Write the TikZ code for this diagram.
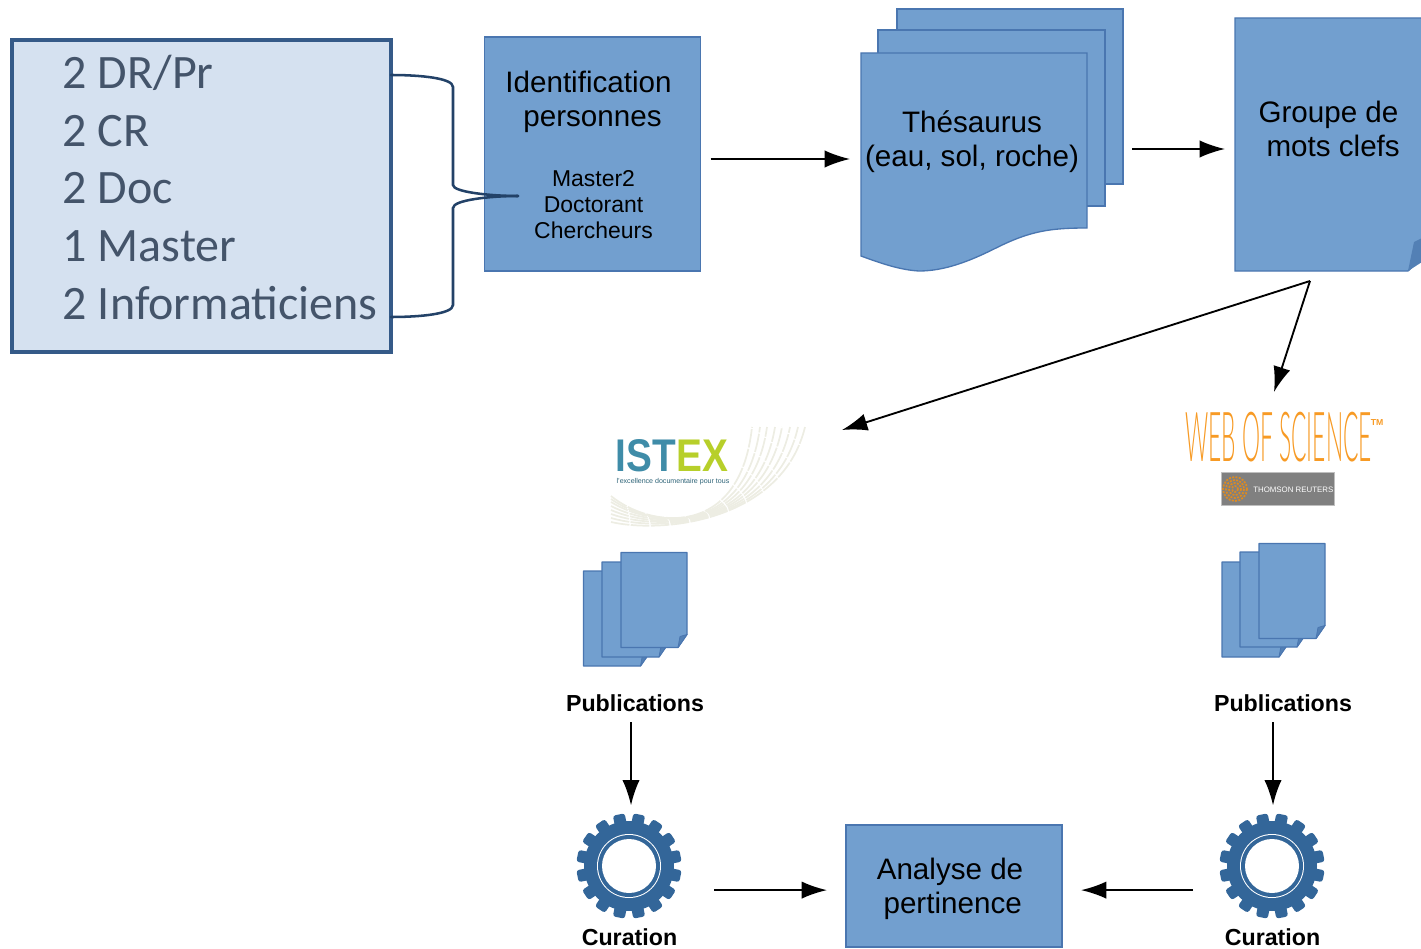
\documentclass[tikz,border=0pt]{standalone}
\usepackage{fontspec}
\setmainfont{Liberation Sans}
\newfontfamily\calib{Carlito}
\newfontfamily\wosfont{Lato Light}
\usetikzlibrary{arrows.meta}
\definecolor{sheetfill}{HTML}{729FCF}
\definecolor{sheetline}{HTML}{4A76B0}
\definecolor{foldfill}{HTML}{5380B5}
\definecolor{gearblue}{HTML}{336699}
\definecolor{panelfill}{HTML}{D5E1F0}
\definecolor{panelline}{HTML}{355A88}
\definecolor{paneltext}{HTML}{44546A}
\definecolor{bracecol}{HTML}{234268}
\definecolor{swoosh}{HTML}{EDEDE3}
\definecolor{istexblue}{HTML}{3F8CA8}
\definecolor{istexgreen}{HTML}{B7CF2A}
\definecolor{wosorange}{HTML}{F79A24}
\tikzset{
  sheet/.style 2 args={draw=sheetline,fill=sheetfill,line width=1pt,inner sep=0pt,outer sep=0pt,
    minimum width=#1*0.75pt,minimum height=#2*0.75pt,align=center},
  ghost/.style 2 args={inner sep=0pt,outer sep=0pt,minimum width=#1*0.75pt,minimum height=#2*0.75pt,align=center},
  big/.style={font=\fontsize{22.2}{25.5}\selectfont},
  small/.style={font=\fontsize{17.2}{19.5}\selectfont},
  lbl/.style={font=\fontsize{17.4}{20}\selectfont\bfseries,inner sep=0pt,outer sep=0pt},
  arr/.style={-{Latex[length=19pt,width=13pt]},line width=1.4pt,black},
  brace/.style={draw=bracecol,line width=1.9pt,line cap=round}
}
\newcommand{\docpage}[2]{%
  \filldraw[draw=sheetline,fill=sheetfill,line width=0.9pt,line join=round]
    (#1,#2) -- ++(66,0) -- ++(0,82) -- ++(-9,13) -- ++(-57,0) -- cycle;
  \filldraw[draw=sheetline,fill=foldfill,line width=0.6pt,line join=round]
    (#1+66,#2+82) -- (#1+59,#2+84) -- (#1+57,#2+95) -- cycle;
}
\newcommand{\gearicon}[3]{%
  \node[circle,inner sep=0pt,outer sep=0pt,minimum size=78pt] (#1) at (#2,#3) {};
  \begin{scope}[shift={(#2,#3)}]
    \foreach \a in {0,22.5,...,337.5}{
      \fill[gearblue,rounded corners=2pt,rotate=\a+11.25] (-6,-52.5) rectangle (6,-30);
    }
    \fill[gearblue] (0,0) circle[radius=45];
    \fill[white] (0,0) circle[radius=32];
    \fill[gearblue] (0,0) circle[radius=31];
    \fill[white] (0,0) circle[radius=27];
  \end{scope}
}
\begin{document}
\begin{tikzpicture}[x=0.75pt,y=-0.75pt]
\useasboundingbox (0,0) rectangle (1421,949);
\clip (0,0) rectangle (1421,949);

% left panel
\node[draw=panelline,fill=panelfill,line width=3pt,inner sep=0pt,outer sep=0pt,
  minimum width=284.5pt,minimum height=234pt] (panel) at (201.3,196) {};
\node[anchor=west,inner sep=0pt,align=left,text=paneltext,
  font=\calib\fontsize{36}{43.3}\selectfont] (paneltxt) at (62.5,187.5)
  {2 DR/Pr\\2 CR\\2 Doc\\1 Master\\2 Informaticiens};

% identification box
\node[sheet={216}{234},big] (ident) at (592.5,154) {};
\node[big,align=center,inner sep=0pt] (identt) at (588.5,101.5) {Identification\\\hspace*{6pt}personnes};
\node[small,align=center,inner sep=0pt] (identm) at (593.5,204.5) {Master2\\Doctorant\\Chercheurs};

% brace from the panel to the box
\coordinate (bt) at (391,75);
\coordinate (bb) at (391,317);
\coordinate (bm) at (518,196);
\draw[brace] (bt) .. controls (420,75) and (453,78) .. (453,87) -- (453,185)
  .. controls (453,192) and (490,196) .. (bm);
\draw[brace] (bb) .. controls (420,317) and (453,314) .. (453,305) -- (453,208)
  .. controls (453,200) and (490,196) .. (bm);

% thesaurus
\node[sheet={226}{175}] (th3) at (1010,96.5) {};
\node[sheet={227}{176}] (th2) at (991.5,118) {};
\filldraw[draw=sheetline,fill=sheetfill,line width=1pt]
  (861,53) -- (1087,53) -- (1087,228)
  .. controls (1050,228) and (1030,231) .. (996,248)
  .. controls (970,261) and (945,271) .. (919,271)
  .. controls (900,270) and (880,263) .. (861,256) -- cycle;
\node[ghost={226}{218},big] (thes) at (974,162) {};
\node[big,align=center,inner sep=0pt] (thest) at (972,142) {Th\'esaurus\\(eau, sol, roche)};

% keywords page
\filldraw[draw=sheetline,fill=sheetfill,line width=1pt]
  (1235,18) -- (1445,18) -- (1445,237) -- (1408,271) -- (1235,271) -- cycle;
\fill[foldfill] (1408,271) -- (1414,242) -- (1422,238) -- (1422,262) -- cycle;
\node[ghost={197}{253},big] (groupe) at (1333.5,144.5) {};
\node[big,align=center,inner sep=0pt] (groupet) at (1328.5,129) {Groupe de\\\hspace*{7pt}mots clefs};

% ISTEX logo
\foreach \s/\e/\c in {0/0/0,3/6/8,6/12/15,10/18/23,14/24/30,18/31/38,22/37/46,26/43/53}{
  \draw[swoosh,line width=1.3pt,dash pattern=on 14pt off 1pt]
    (611,{496+\s}) .. controls ({650+\c/3},{528+\s/4}) and ({740+\e},{540-\e/2}) .. ({752+\c},427);
}
\node[inner sep=0pt,font=\fontsize{10}{10}\selectfont\bfseries] (istex) at (672,456)
  {\resizebox{84pt}{24pt}{\textcolor{istexblue}{IST}\textcolor{istexgreen}{EX}}};
\node[inner sep=0pt,text=istexblue!70!black,font=\fontsize{5.3}{6}\selectfont] (istexsub) at (673,482)
  {l'excellence documentaire pour tous};

% Web of Science logo
\node[inner sep=0pt,text=wosorange] (wos) at (1278.5,437.5)
  {\resizebox{140pt}{37pt}{\wosfont WEB OF SCIENCE}};
\node[inner sep=0pt,text=wosorange,font=\fontsize{6.5}{7}\selectfont\bfseries] (wostm) at (1377,423) {TM};
\node[fill=black!50,draw=black!25,line width=0.5pt,inner sep=0pt,outer sep=0pt,
  minimum width=85pt,minimum height=25pt] (tr) at (1277.5,488.5) {};
\foreach \r in {3,6,9,12}{
  \draw[wosorange!90!black,line width=1.3pt,dash pattern=on 1.5pt off 1pt] (1235,489) circle[radius=\r];
}
\node[inner sep=0pt,text=white,font=\fontsize{5.9}{6}\selectfont,anchor=west] (trt) at (1253,489.5) {THOMSON REUTERS};

% stacks of documents
\docpage{583.5}{571}\docpage{602}{562}\docpage{621}{552.5}
\docpage{1222}{562}\docpage{1240}{552}\docpage{1259}{543.5}
\node[lbl] (pub1) at (635,703) {Publications};
\node[lbl] (pub2) at (1283,703) {Publications};

% gears
\gearicon{gear1}{629}{866}
\gearicon{gear2}{1272}{866}
\node[lbl] (cur1) at (629.5,937) {Curation};
\node[lbl] (cur2) at (1272.5,937) {Curation};

% analysis box
\node[sheet={216}{122},big] (analyse) at (954,886) {};
\node[big,align=center,inner sep=0pt] (analyset) at (950,889) {Analyse de\\\hspace*{4pt}pertinence};

% connectors
\coordinate (fork) at (1310,281);
\coordinate (istexin) at (842,430);
\coordinate (wosin) at (1274,392);
\draw[arr,shorten <=7.5pt,shorten >=8.25pt] ([yshift=-3.75pt]ident.east) -- ([yshift=-3.75pt]ident.east -| thes.west);
\draw[arr,shorten <=6.75pt,shorten >=7.5pt] (th3.east |- 0,149) -- (groupe.west |- 0,149);
\draw[arr] (fork) -- (istexin);
\draw[arr] (fork) -- (wosin);
\draw[arr,shorten <=8pt,shorten >=6.5pt] ([xshift=-3pt]pub1.south) -- (631,814);
\draw[arr,shorten <=8pt,shorten >=6.5pt] ([xshift=-7.5pt]pub2.south) -- (1273,814);
\draw[arr,shorten <=25pt,shorten >=14.25pt] (681,890.1) -- (analyse.west |- 0,890.1);
\draw[arr,shorten <=16pt,shorten >=14.25pt] (1214.5,890.1) -- (analyse.east |- 0,890.1);
\end{tikzpicture}
\end{document}
